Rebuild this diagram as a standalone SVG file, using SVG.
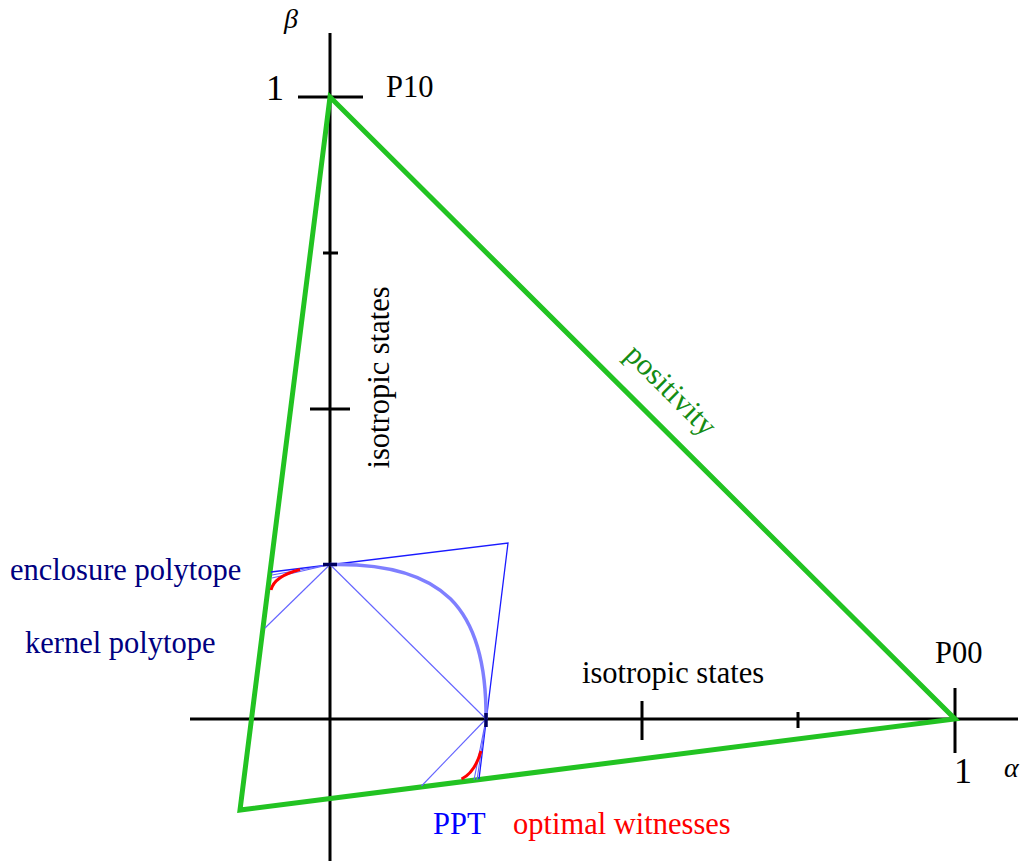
<svg xmlns="http://www.w3.org/2000/svg" width="1029" height="861" viewBox="0 0 1029 861">
<style>
text{font-family:"Liberation Serif","Times New Roman",serif;font-size:30.5px;fill:#000}
.axis{stroke:#000;stroke-width:3;fill:none}
.green{stroke:#22c322;stroke-width:5;fill:none;stroke-linejoin:miter}
.enc{stroke:#1a1aff;stroke-width:1.3;fill:none}
.ker{stroke:#6464ff;stroke-width:1.1;fill:none}
.ppt{stroke:#7f7fff;stroke-width:3.5;fill:none}
.red{stroke:#ff0000;stroke-width:3;fill:none}
.mark{stroke:#000060;stroke-width:3.5}
.it{font-style:italic;font-size:28px}
</style>
<rect width="1029" height="861" fill="#fff"/>
<g id="axes">
<line class="axis" x1="330" y1="33" x2="330" y2="861"/>
<line class="axis" x1="190" y1="719" x2="1018" y2="719"/>
<line class="axis" x1="298" y1="97" x2="363" y2="97"/>
<line class="axis" x1="323" y1="253" x2="338" y2="253"/>
<line class="axis" x1="310" y1="409" x2="350" y2="409"/>
<line class="axis" x1="642" y1="701" x2="642" y2="740"/>
<line class="axis" x1="798" y1="712" x2="798" y2="728"/>
<line class="axis" x1="955" y1="688" x2="955" y2="753"/>
</g>
<g id="axis-labels">
<text class="it" x="284" y="28">β</text>
<text x="266" y="100" style="font-size:36px">1</text>
<text x="386" y="97">P10</text>
<text x="935" y="663">P00</text>
<text x="954" y="783" style="font-size:36px">1</text>
<text class="it" x="1004" y="777">α</text>
<text x="582" y="683">isotropic states</text>
<text transform="translate(389,377.5) rotate(-90)" text-anchor="middle">isotropic states</text>
</g>
<g id="connectors">
<polygon id="positivity" class="green" points="330,97 955,719 240,810"/>
<polyline id="enclosure-polytope" class="enc" points="271,572 508,543 479,779"/>
<g id="kernel-polytope">
<line class="ker" x1="330" y1="564.5" x2="265" y2="628"/>
<line class="ker" x1="330" y1="564.5" x2="486" y2="719"/>
<line class="ker" x1="486" y1="719" x2="421.5" y2="786"/>
<line class="ker" x1="330" y1="564.5" x2="272" y2="575"/>
<line class="ker" x1="330" y1="564.5" x2="272" y2="578"/>
<line class="ker" x1="486" y1="719" x2="474" y2="780"/>
<line class="ker" x1="486" y1="719" x2="477" y2="780"/>
</g>
<path id="ppt" class="ppt" d="M330,564.5 C442,562 487,607 486,719"/>
<g id="optimal-witnesses">
<path class="red" d="M271,590 C273,581 283,574 300,569.5"/>
<path class="red" d="M461.5,779 C470,775 477,765 481,751"/>
</g>
<line class="mark" x1="323" y1="564.5" x2="337" y2="564.5"/>
<line class="mark" x1="486" y1="713" x2="486" y2="727"/>
</g>
<g id="labels">
<text transform="translate(664,397) rotate(45)" text-anchor="middle" style="fill:#148c14">positivity</text>
<text x="10" y="580" style="fill:#000080">enclosure polytope</text>
<text x="25" y="653" style="fill:#000080">kernel polytope</text>
<text x="433" y="834" style="fill:#0000ff">PPT</text>
<text x="513" y="834" style="fill:#ff0000">optimal witnesses</text>
</g>
</svg>
